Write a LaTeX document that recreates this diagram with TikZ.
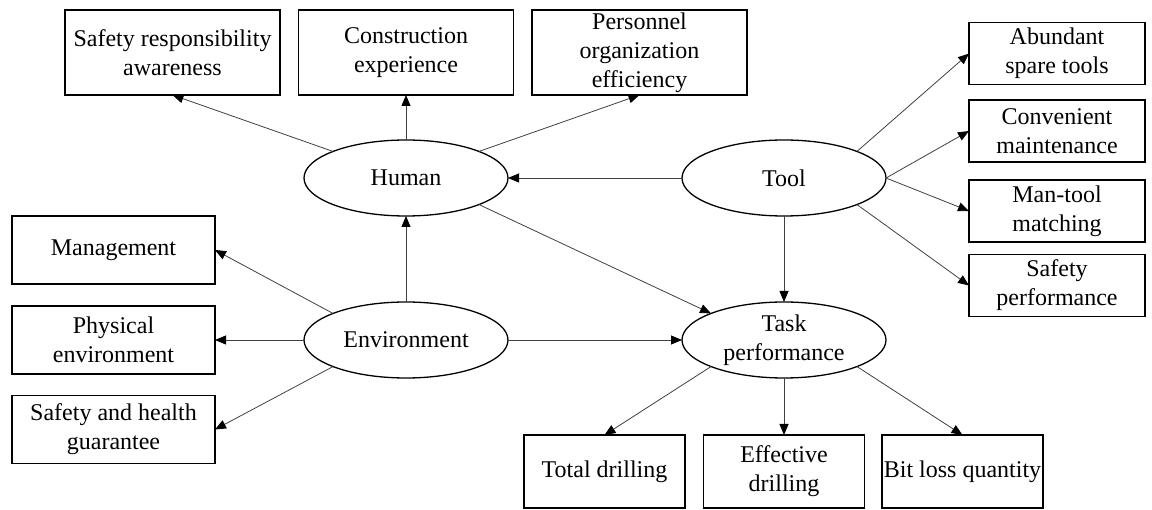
\documentclass[tikz,border=0pt]{standalone}
\usepackage{fontspec}
\setmainfont{Liberation Serif}
\usetikzlibrary{shapes.geometric,arrows.meta}

\begin{document}
\begin{tikzpicture}[x=1pt, y=-1pt,
    font=\fontsize{24}{29}\selectfont,
    box/.style={draw, line width=1.3pt, align=center, inner sep=0pt, outer sep=0pt},
    topbox/.style={box, minimum width=215pt, minimum height=85pt},
    leftbox/.style={box, minimum width=203pt, minimum height=68pt},
    rightbox/.style={box, minimum width=176pt, minimum height=62pt},
    bottombox/.style={box, minimum width=161pt, minimum height=73pt},
    latent/.style={draw, ellipse, line width=1.3pt, minimum width=204pt, minimum height=76pt, inner sep=0pt, outer sep=0pt},
    link/.style={draw=black!75, line width=0.8pt, -{Triangle[length=11pt,width=9pt,color=black]}}]
    \useasboundingbox (0,0) rectangle (1152,510);
    % latent variables
    \node [latent] (human) at (406,178) {Human};
    \node [latent] (tool) at (784,178) {Tool};
    \node [latent] (env) at (406,340) {Environment};
    \node [latent, label={[align=center]center:Task\\performance}] (task) at (784,340) {};
    % human indicators
    \node [topbox] (awareness) at (172.5,52.5) {Safety responsibility\\awareness};
    \node [topbox] (experience) at (406,52.5) {Construction\\experience};
    \node [topbox] (efficiency) at (639.5,52.5) {Personnel\\organization\\efficiency};
    % tool indicators
    \node [rightbox] (spare) at (1057,53.5) {Abundant\\spare tools};
    \node [rightbox] (maint) at (1057,131) {Convenient\\maintenance};
    \node [rightbox] (matching) at (1057,211) {Man-tool\\matching};
    \node [rightbox] (safeperf) at (1057,285.5) {Safety\\performance};
    % environment indicators
    \node [leftbox] (manage) at (113.5,250) {Management};
    \node [leftbox] (physical) at (113.5,340) {Physical\\environment};
    \node [leftbox] (health) at (113.5,429.5) {Safety and health\\guarantee};
    % task indicators
    \node [bottombox] (total) at (604.5,471.5) {Total drilling};
    \node [bottombox] (effective) at (784,471.5) {Effective\\drilling};
    \node [bottombox] (bitloss) at (962.5,471.5) {Bit loss quantity};
    % links
    \draw [link] (human.160) -- (awareness.south);
    \draw [link] (human.north) -- (experience.south);
    \draw [link] (human.20) -- (efficiency.south);
    \draw [link] (human.340) -- (task.160);
    \draw [link] (tool.west) -- (human.east);
    \draw [link] (tool.20) -- (spare.west);
    \draw [link] (tool.east) -- (maint.west);
    \draw [link] (tool.east) -- (matching.west);
    \draw [link] (tool.340) -- (safeperf.west);
    \draw [link] (tool.south) -- (task.north);
    \draw [link] (env.north) -- (human.south);
    \draw [link] (env.160) -- (manage.east);
    \draw [link] (env.west) -- (physical.east);
    \draw [link] (env.200) -- (health.east);
    \draw [link] (env.east) -- (task.west);
    \draw [link] (task.200) -- (total.north);
    \draw [link] (task.south) -- (effective.north);
    \draw [link] (task.340) -- (bitloss.north);
\end{tikzpicture}
\end{document}
